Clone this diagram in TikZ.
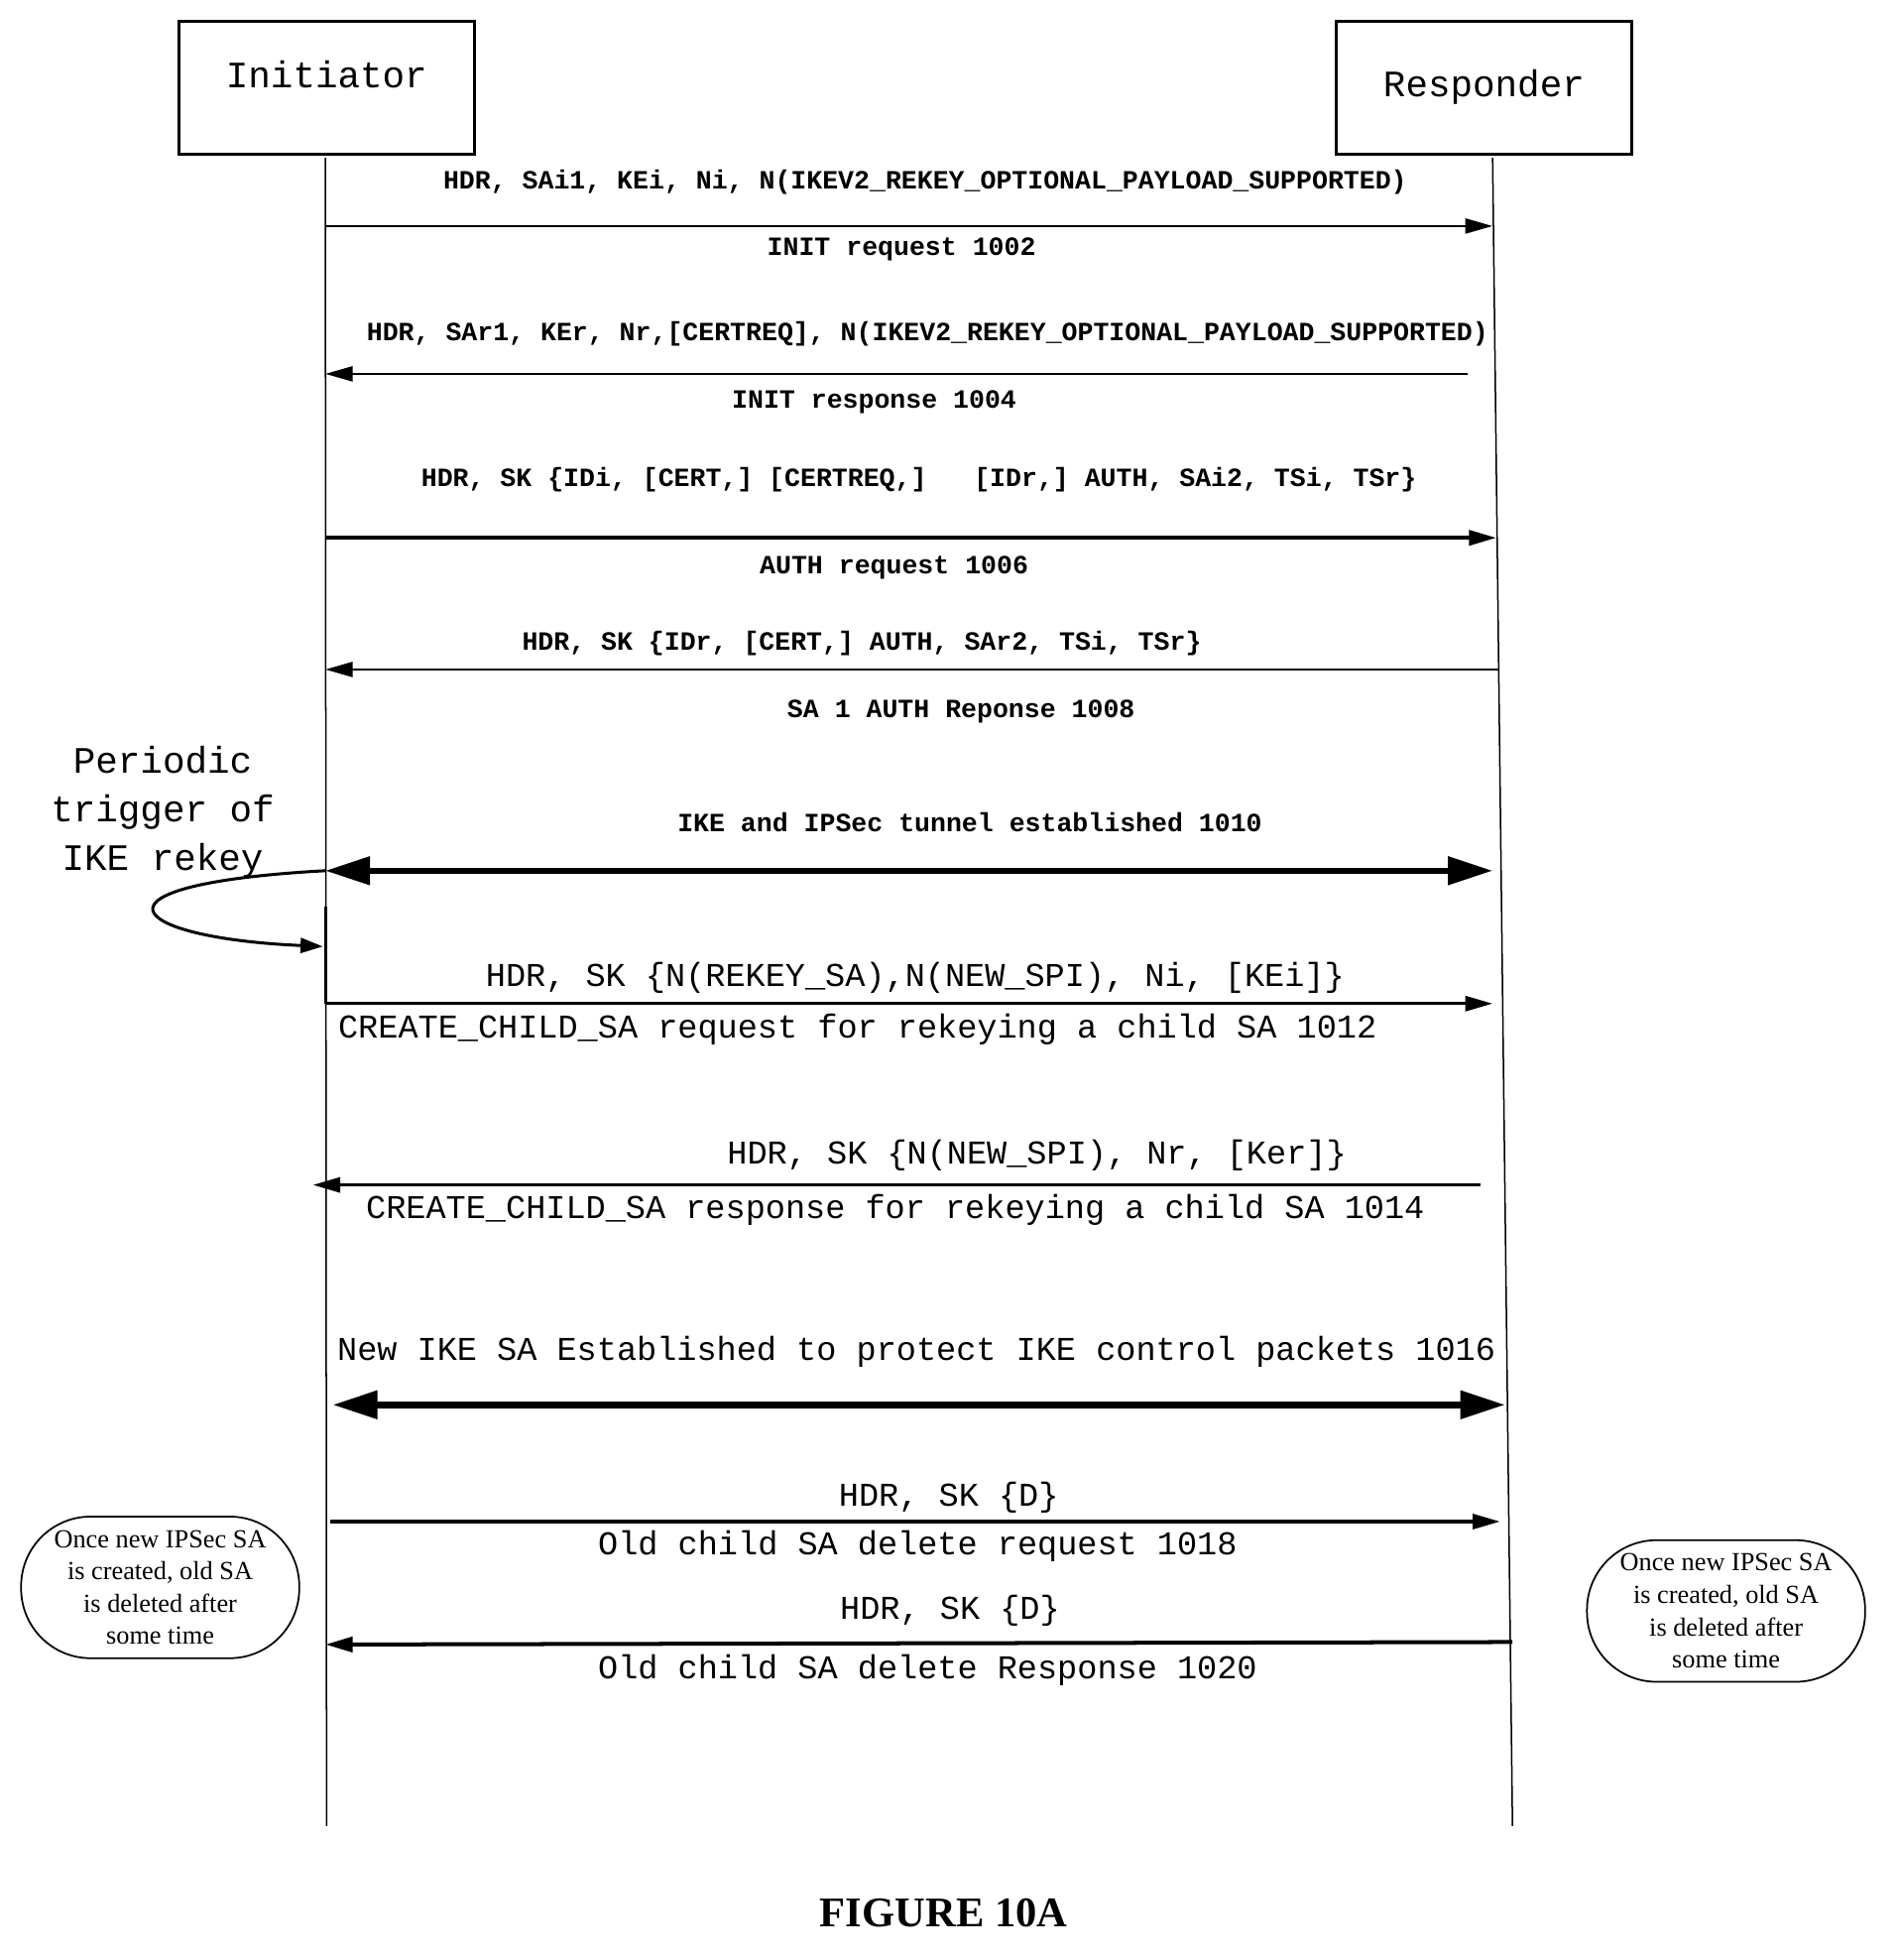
\documentclass[tikz,border=0pt]{standalone}
\usepackage{fontspec}
\setmainfont{Liberation Serif}
\setmonofont{Liberation Mono}
\usetikzlibrary{arrows.meta}
\begin{document}
\begin{tikzpicture}[x=0.5pt,y=-0.5pt,
  sm/.style={font=\ttfamily\bfseries\fontsize{10.6}{12}\selectfont,inner sep=0pt},
  lg/.style={font=\ttfamily\fontsize{13.4}{15}\selectfont,inner sep=0pt},
  msg/.style={line width=1pt,-{Triangle[length=11pt,width=6pt]}},
  big/.style={line width=2.6pt,{Triangle[length=18pt,width=11pt]}-{Triangle[length=18pt,width=11pt]}},
  note/.style={draw,rounded corners=28pt,line width=0.7pt,align=center,font=\fontsize{10.5}{13}\selectfont},
  lbox/.style={draw,line width=1.3pt}]
\useasboundingbox (0,0) rectangle (1530,1578);
\draw[lbox] (144,17) rectangle (382,124);
\node[lg,font=\ttfamily\fontsize{15}{17}\selectfont] (ini) at (263,60) {Initiator};
\draw[lbox] (1076,17) rectangle (1314,124);
\node[lg,font=\ttfamily\fontsize{15}{17}\selectfont] (res) at (1195,70) {Responder};
\coordinate (lt) at (262,127); \coordinate (lb) at (263,1470);
\coordinate (rt) at (1202,127); \coordinate (rb) at (1218,1470);
\draw[line width=0.6pt] (lt) -- (lb);
\draw[line width=0.6pt] (rt) -- (rb);
% 1
\node[sm] (m1) at (745,147) {HDR, SAi1, KEi, Ni, N(IKEV2\_REKEY\_OPTIONAL\_PAYLOAD\_SUPPORTED)};
\coordinate (a1) at (262,182); \coordinate (b1) at (1202,182);
\draw[msg] (a1) -- (b1);
\node[sm] (s1) at (726,201) {INIT request 1002};
% 2
\node[sm] (m2) at (747,269) {HDR, SAr1, KEr, Nr,[CERTREQ], N(IKEV2\_REKEY\_OPTIONAL\_PAYLOAD\_SUPPORTED)};
\coordinate (a2) at (1182,301); \coordinate (b2) at (262,301);
\draw[msg] (a2) -- (b2);
\node[sm] (s2) at (704,324) {INIT response 1004};
% 3
\node[sm] (m3) at (740,386) {HDR, SK \{IDi, [CERT,] [CERTREQ,]\ \ \ [IDr,] AUTH, SAi2, TSi, TSr\}};
\coordinate (a3) at (262,433); \coordinate (b3) at (1205,433);
\draw[msg,line width=1.5pt] (a3) -- (b3);
\node[sm] (s3) at (720,457) {AUTH request 1006};
% 4
\node[sm] (m4) at (694,518) {HDR, SK \{IDr, [CERT,] AUTH, SAr2, TSi, TSr\}};
\coordinate (a4) at (1207,539); \coordinate (b4) at (262,539);
\draw[msg] (a4) -- (b4);
\node[sm] (s4) at (774,573) {SA 1 AUTH Reponse 1008};
% 5
\node[sm] (m5) at (781,662) {IKE and IPSec tunnel established 1010};
\coordinate (a5) at (262,701); \coordinate (b5) at (1202,701);
\draw[big] (a5) -- (b5);
% loop
\node[lg,align=center,font=\ttfamily\fontsize{15}{19.5}\selectfont] (per) at (131,654) {Periodic\\trigger of\\IKE rekey};
\coordinate (l2) at (260,762);
\draw[line width=1.2pt,-{Triangle[length=9pt,width=6pt]}] (a5) .. controls (60,712) and (100,755) .. (l2);
\draw[line width=1.2pt] (262,730) -- (262,808);
% 6
\node[lg] (m6) at (737,787) {HDR, SK \{N(REKEY\_SA),N(NEW\_SPI), Ni, [KEi]\}};
\coordinate (a6) at (262,808); \coordinate (b6) at (1202,808);
\draw[msg,line width=1.3pt] (a6) -- (b6);
\node[lg,anchor=west] (s6) at (272,829) {CREATE\_CHILD\_SA request for rekeying a child SA 1012};
% 7
\node[lg] (m7) at (835,930) {HDR, SK \{N(NEW\_SPI), Nr, [Ker]\}};
\coordinate (a7) at (1192,954); \coordinate (b7) at (252,954);
\draw[msg,line width=1.3pt] (a7) -- (b7);
\node[lg] (s7) at (721,974) {CREATE\_CHILD\_SA response for rekeying a child SA 1014};
% 8
\node[lg] (m8) at (738,1088) {New IKE SA Established to protect IKE control packets 1016};
\coordinate (a8) at (268,1131); \coordinate (b8) at (1212,1131);
\draw[big] (a8) -- (b8);
% 9
\node[lg] (m9) at (764,1206) {HDR, SK \{D\}};
\coordinate (a9) at (266,1225); \coordinate (b9) at (1208,1225);
\draw[msg,line width=1.3pt] (a9) -- (b9);
\node[lg] (s9) at (739,1245) {Old child SA delete request 1018};
% 10
\node[lg] (m10) at (765,1297) {HDR, SK \{D\}};
\coordinate (a10) at (1218,1322); \coordinate (b10) at (262,1324);
\draw[msg,line width=1.6pt] (a10) -- (b10);
\node[lg] (s10) at (747,1345) {Old child SA delete Response 1020};
% notes
\node[note,minimum width=112pt,minimum height=57pt] (n1) at (129,1278) {Once new IPSec SA\\is created, old SA\\is deleted after\\some time};
\node[note,minimum width=112pt,minimum height=57pt] (n2) at (1390,1297) {Once new IPSec SA\\is created, old SA\\is deleted after\\some time};
\node[font=\bfseries\fontsize{17}{20}\selectfont] (fig) at (760,1540) {FIGURE 10A};
\end{tikzpicture}
\end{document}
